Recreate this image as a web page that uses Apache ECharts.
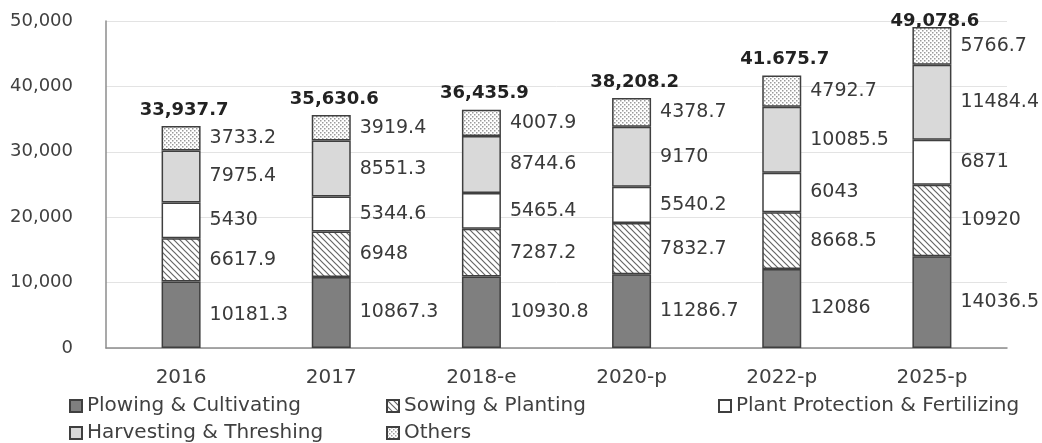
<!DOCTYPE html>
<html>
<head>
<meta charset="utf-8">
<script src="https://cdn.jsdelivr.net/npm/echarts@6/dist/echarts.min.js"></script>
<style>html,body{margin:0;padding:0;background:#fff}#c{width:1042px;height:443px}</style>
</head>
<body>
<div id="c"></div>
<script>
const categories = ['2016', '2017', '2018-e', '2020-p', '2022-p', '2025-p'];
const plowing = [10181.3, 10867.3, 10930.8, 11286.7, 12086, 14036.5];
const sowing = [6617.9, 6948, 7287.2, 7832.7, 8668.5, 10920];
const protection = [5430, 5344.6, 5465.4, 5540.2, 6043, 6871];
const harvesting = [7975.4, 8551.3, 8744.6, 9170, 10085.5, 11484.4];
const others = [3733.2, 3919.4, 4007.9, 4378.7, 4792.7, 5766.7];
const totals = [33937.7, 35630.6, 36435.9, 38208.2, 41675.7, 49078.6];
const totalLabels = ['33,937.7', '35,630.6', '36,435.9', '38,208.2', '41.675.7', '49,078.6'];
const yTicks = ['0', '10,000', '20,000', '30,000', '40,000', '50,000'];

function hatchPattern() {
  const c = document.createElement('canvas');
  c.width = 6; c.height = 6;
  const g = c.getContext('2d');
  g.fillStyle = '#ffffff'; g.fillRect(0, 0, 6, 6);
  g.strokeStyle = '#666666'; g.lineWidth = 1.2;
  g.beginPath();
  g.moveTo(-1, -1); g.lineTo(7, 7);
  g.moveTo(-4, 2); g.lineTo(4, 10);
  g.moveTo(2, -4); g.lineTo(10, 4);
  g.stroke();
  return c;
}
function dotPattern() {
  const c = document.createElement('canvas');
  c.width = 4; c.height = 4;
  const g = c.getContext('2d');
  g.fillStyle = '#ffffff'; g.fillRect(0, 0, 4, 4);
  g.fillStyle = '#9a9a9a';
  g.fillRect(0, 0, 1.5, 1.5);
  g.fillRect(2, 2, 1.5, 1.5);
  return c;
}

const font = '"DejaVu Sans", "Open Sans", sans-serif';
const border = { borderColor: '#3f3f3f', borderWidth: 1.5 };
const valueLabel = { show: true, position: 'right', distance: 9, fontSize: 19, color: '#3a3a3a', fontFamily: font };

function seriesOf(name, data, color) {
  return {
    name: name, type: 'bar', stack: 'all', data: data, barWidth: 39, barGap: '-100%',
    itemStyle: Object.assign({ color: color }, border),
    label: valueLabel
  };
}
function legendAt(name, left, top) {
  return { left: left, top: top, itemWidth: 12, itemHeight: 12, itemGap: 0, icon: 'rect',
    textStyle: { fontSize: 20, color: '#404040', fontFamily: font },
    data: [name] };
}

const chart = echarts.init(document.getElementById('c'));
chart.setOption({
  animation: false,
  textStyle: { fontFamily: font },
  grid: { left: 106, right: 35, top: 21, bottom: 95 },
  xAxis: {
    type: 'category', data: categories,
    axisLine: { lineStyle: { color: '#8c8c8c', width: 1.5 } },
    axisTick: { show: false },
    axisLabel: { fontSize: 20, color: '#404040', margin: 20, fontFamily: font }
  },
  yAxis: {
    type: 'value', min: 0, max: 50000, interval: 10000,
    axisLine: { show: true, lineStyle: { color: '#8c8c8c', width: 1.5 } },
    axisTick: { show: false },
    splitLine: { lineStyle: { color: '#e3e3e3' } },
    axisLabel: { fontSize: 18, color: '#404040', margin: 33, fontFamily: font,
      formatter: function (v) { return yTicks[Math.round(v / 10000)]; } }
  },
  legend: [
    legendAt('Plowing & Cultivating', 64, 391),
    legendAt('Harvesting & Threshing', 64, 418),
    legendAt('Sowing & Planting', 381, 391),
    legendAt('Others', 381, 418),
    legendAt('Plant Protection & Fertilizing', 713, 391)
  ],
  series: [
    seriesOf('Plowing & Cultivating', plowing, '#7f7f7f'),
    seriesOf('Sowing & Planting', sowing, { image: hatchPattern(), repeat: 'repeat' }),
    seriesOf('Plant Protection & Fertilizing', protection, '#ffffff'),
    seriesOf('Harvesting & Threshing', harvesting, '#d9d9d9'),
    seriesOf('Others', others, { image: dotPattern(), repeat: 'repeat' }),
    {
      name: 'Total', type: 'bar', barWidth: 39, barGap: '-100%', z: 1,
      data: totals.map(function (v, i) {
        return i === totals.length - 1 ? { value: v, label: { distance: -3 } } : v;
      }),
      itemStyle: { color: 'rgba(0,0,0,0)' },
      label: { show: true, position: 'top', distance: 7, offset: [3, 0], fontSize: 18, fontWeight: 'bold',
        color: '#222222', fontFamily: font,
        formatter: function (p) { return totalLabels[p.dataIndex]; } }
    }
  ]
});
</script>
</body>
</html>
